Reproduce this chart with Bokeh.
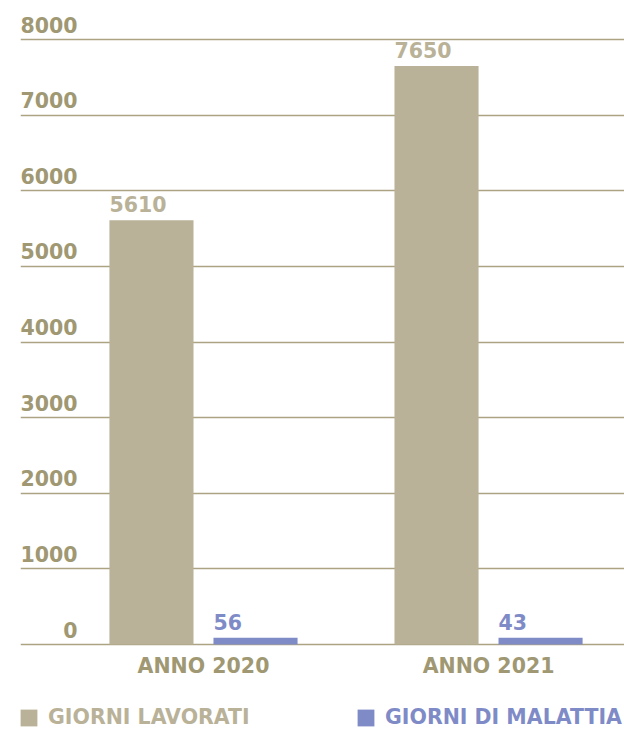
from bokeh.plotting import figure
from bokeh.models import (Range1d, FixedTicker, LabelSet, ColumnDataSource,
                          Legend, LegendItem)
from bokeh.core.properties import value
from bokeh.embed import file_html
from bokeh.resources import INLINE

# ---- data ----
years = ["ANNO 2020", "ANNO 2021"]
lavorati = [5610, 7650]
malattia = [56, 43]
series_names = ["GIORNI LAVORATI", "GIORNI DI MALATTIA"]
yticks = [0, 1000, 2000, 3000, 4000, 5000, 6000, 7000, 8000]
ytick_labels = [str(t) for t in yticks]

# ---- style ----
TAN = "#B9B298"
BLUE = "#7F8BC7"
OLIVE = "#A09873"
GRID = "#ABA382"
FONT = "DejaVu Sans"
FS = "20.5px"
BAR_W = 0.295
OFF = 0.1825
MIN_VISIBLE = 90  # small values drawn with a minimum visible height

pos = list(range(1, len(years) + 1))

p = figure(width=624, height=729, output_backend="svg", toolbar_location=None,
           x_range=Range1d(0.358, 2.477), y_range=Range1d(-1124, 8516),
           x_axis_location=None, y_axis_location=None,
           min_border_left=20, min_border_right=0, min_border_top=0,
           min_border_bottom=0)
p.outline_line_color = None
p.background_fill_color = "white"
p.border_fill_color = "white"

src = ColumnDataSource(dict(
    x1=[x - OFF for x in pos], x2=[x + OFF for x in pos],
    l1=[x - OFF - BAR_W / 2 for x in pos], l2=[x + OFF - BAR_W / 2 for x in pos],
    t1=lavorati, t2=[max(v, MIN_VISIBLE) for v in malattia],
    s1=[str(v) for v in lavorati], s2=[str(v) for v in malattia],
    xc=pos, y0=[0] * len(pos), cat=years,
))

r1 = p.vbar(x="x1", top="t1", width=BAR_W, source=src, color=TAN, line_color=None)
r2 = p.vbar(x="x2", top="t2", width=BAR_W, source=src, color=BLUE, line_color=None)

def lbl(**kw):
    base = dict(text_font=value(FONT), text_font_size=value(FS),
                text_font_style="bold", text_baseline="alphabetic")
    base.update(kw)
    return LabelSet(**base)

p.add_layout(lbl(x="l1", y="t1", text="s1", source=src, y_offset=8,
                 text_align="left", text_color=TAN))
p.add_layout(lbl(x="l2", y="t2", text="s2", source=src, y_offset=8,
                 text_align="left", text_color=BLUE))

# category labels under the bars
p.add_layout(lbl(x="xc", y="y0", text="cat", source=src, y_offset=-28,
                 text_align="center", text_color=OLIVE))

# grid
p.xgrid.visible = False
p.ygrid.ticker = FixedTicker(ticks=yticks)
p.ygrid.grid_line_color = GRID
p.ygrid.grid_line_width = 1.5

# y tick labels above grid lines
ysrc = ColumnDataSource(dict(y=yticks, t=ytick_labels, x=[57] * len(yticks)))
p.add_layout(lbl(x="x", y="y", text="t", source=ysrc, x_units="screen",
                 y_offset=7, text_align="right", text_color=OLIVE))

# legends (one per series so each label keeps its series colour)
for name, rend, col, loc in [(series_names[0], r1, TAN, (-2, 0)),
                             (series_names[1], r2, BLUE, (335, 0))]:
    lg = Legend(items=[LegendItem(label=name, renderers=[rend])],
                location=loc, orientation="horizontal",
                glyph_width=21, glyph_height=21, label_standoff=9,
                padding=0, margin=0,
                border_line_color=None, background_fill_alpha=0,
                label_text_font=FONT, label_text_font_size=FS,
                label_text_font_style="bold", label_text_color=col)
    p.add_layout(lg, "center")

html = file_html(p, INLINE)
open("out.html", "w").write(html)
